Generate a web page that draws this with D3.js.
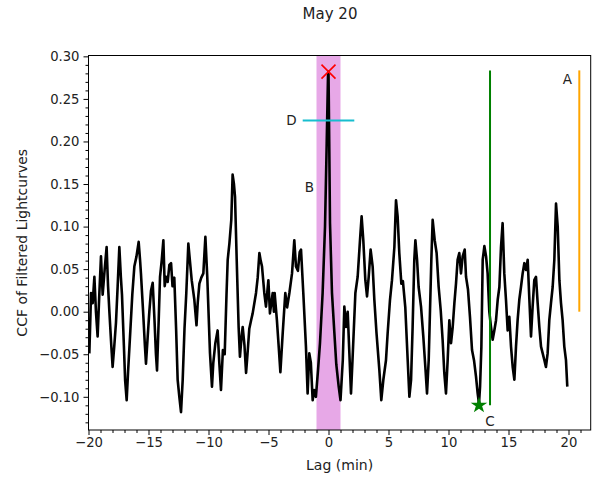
<!DOCTYPE html>
<html>
<head>
<meta charset="utf-8">
<script src="https://cdn.jsdelivr.net/npm/d3@7"></script>
<style>
  body { margin: 0; background: #fff; }
  svg { display: block; font-family: "DejaVu Sans", sans-serif; }
</style>
</head>
<body>
<svg id="chart" width="598" height="477"></svg>
<script>
// ---- data ----
const title = "May 20";
const xLabel = "Lag (min)";
const yLabel = "CCF of Filtered Lightcurves";
const xTicks = [-20, -15, -10, -5, 0, 5, 10, 15, 20];
const yTicks = [-0.10, -0.05, 0.00, 0.05, 0.10, 0.15, 0.20, 0.25, 0.30];

const lag = [
 -19.93,-19.85,-19.79,-19.65,-19.51,-19.38,-19.24,-19.1,-18.96,-18.82,-18.65,-18.49,-18.37,-18.26,-18.1,-17.99,-17.85,-17.71,-17.57,-17.43,
 -17.3,-17.21,-17.05,-16.95,-16.82,-16.7,-16.54,-16.35,-16.18,-16.0,-15.82,-15.7,-15.63,-15.45,-15.3,-15.21,-15.07,-14.93,-14.79,-14.65,
 -14.5,-14.38,-14.29,-14.15,-14.04,-13.9,-13.76,-13.65,-13.54,-13.4,-13.26,-13.12,-13.0,-12.85,-12.7,-12.57,-12.43,-12.29,-12.15,-12.0,
 -11.85,-11.68,-11.55,-11.4,-11.18,-11.0,-10.9,-10.76,-10.6,-10.43,-10.26,-10.1,-9.875,-9.71,-9.6,-9.43,-9.24,-9.1,-8.96,-8.8,
 -8.65,-8.5,-8.4,-8.26,-8.1,-7.99,-7.88,-7.79,-7.65,-7.49,-7.38,-7.25,-7.15,-7.0,-6.87,-6.75,-6.6,-6.45,-6.32,-6.04,
 -5.9,-5.76,-5.65,-5.54,-5.35,-5.21,-5.01,-4.88,-4.65,-4.55,-4.49,-4.3,-4.15,-4.01,-3.82,-3.6,-3.45,-3.26,-3.04,-2.85,
 -2.71,-2.55,-2.4,-2.29,-2.1,-1.88,-1.74,-1.6,-1.47,-1.32,-1.2,-1.05,-0.875,-0.71,-0.49,-0.29,-0.15,-0.04,0.0,0.06,
 0.125,0.29,0.49,0.65,0.85,1.0,1.19,1.32,1.46,1.6,1.74,1.875,2.0,2.24,2.43,2.625,2.76,2.9,3.07,3.21,
 3.35,3.51,3.68,3.82,4.0,4.24,4.4,4.57,4.79,4.93,5.125,5.29,5.49,5.625,5.76,5.9,6.07,6.2,6.4,6.6,
 6.74,6.88,7.01,7.15,7.24,7.38,7.51,7.71,7.9,8.07,8.21,8.35,8.46,8.57,8.68,8.85,9.01,9.18,9.35,9.51,
 9.65,9.79,9.93,10.07,10.21,10.35,10.49,10.625,10.76,10.9,11.04,11.18,11.35,11.46,11.625,11.79,11.96,12.125,12.29,12.43,
 12.54,12.63,12.74,12.85,12.99,13.13,13.26,13.4,13.54,13.68,13.82,13.96,14.1,14.24,14.375,14.51,14.65,14.79,14.93,15.07,
 15.21,15.35,15.49,15.625,15.76,15.9,16.04,16.18,16.32,16.46,16.6,16.74,16.875,17.01,17.15,17.29,17.43,17.57,17.71,17.85,
 17.99,18.12,18.26,18.4,18.54,18.68,18.82,18.96,19.1,19.24,19.375,19.51,19.65,19.79,19.9
];
const ccf = [
 -0.049,-0.010,0.022,0.010,0.041,0.000,-0.029,0.020,0.065,0.020,0.050,0.076,0.030,0.000,-0.040,-0.065,-0.040,-0.013,0.030,0.076,
 0.040,0.020,-0.040,-0.080,-0.104,-0.070,-0.029,0.020,0.053,0.065,0.082,0.060,0.045,0.000,-0.040,-0.061,-0.030,0.000,0.025,0.034,
 -0.010,-0.050,-0.069,-0.010,0.041,0.060,0.084,0.030,0.041,0.035,0.055,0.057,0.030,0.040,-0.020,-0.080,-0.100,-0.118,-0.080,-0.020,
 0.022,0.080,0.060,0.037,0.014,-0.016,0.010,0.033,0.040,0.045,0.088,0.040,-0.049,-0.088,-0.060,-0.037,-0.022,-0.060,-0.092,-0.045,
 -0.050,0.020,0.061,0.080,0.108,0.161,0.150,0.135,0.061,-0.018,-0.053,-0.030,-0.018,-0.040,-0.072,-0.050,-0.020,-0.010,-0.002,0.022,
 0.040,0.069,0.060,0.053,0.022,0.006,0.037,-0.002,0.022,0.000,0.022,-0.010,-0.041,-0.071,-0.026,0.022,0.005,0.022,0.045,0.084,
 0.053,0.048,0.070,0.073,0.022,-0.041,-0.096,-0.049,-0.060,-0.104,-0.092,-0.100,-0.069,-0.037,0.022,0.100,0.198,0.278,0.282,0.200,
 0.104,0.022,-0.025,-0.062,-0.088,-0.104,-0.057,0.006,-0.018,0.000,-0.049,-0.096,-0.057,0.022,0.041,0.084,0.112,0.084,0.037,0.018,
 0.041,0.073,0.053,0.014,-0.025,-0.069,-0.104,-0.080,-0.057,-0.025,0.014,0.037,0.076,0.131,0.112,0.069,0.033,0.036,0.005,-0.057,
 -0.100,-0.080,-0.018,0.061,0.084,0.061,0.029,0.006,-0.029,-0.065,-0.096,-0.057,0.002,0.061,0.108,0.084,0.069,0.029,0.002,-0.033,
 -0.072,-0.096,-0.057,-0.010,-0.037,-0.018,0.010,0.033,0.061,0.069,0.045,0.065,0.073,0.041,0.026,-0.006,-0.045,-0.057,-0.076,-0.096,
 -0.108,-0.088,-0.041,0.061,0.077,0.065,0.045,0.000,-0.018,-0.033,-0.022,-0.010,0.014,0.029,0.076,0.104,0.045,0.014,-0.022,-0.006,
 -0.041,-0.065,-0.080,-0.041,-0.010,0.014,0.029,0.045,0.057,0.049,0.061,0.014,-0.029,0.006,0.037,0.041,0.010,-0.018,-0.041,-0.049,
 -0.057,-0.065,-0.049,-0.010,0.010,0.029,0.061,0.127,0.100,0.037,0.010,-0.010,-0.041,-0.057,-0.088
];

// annotations
const spanX = [-1, 1];                 // shaded window
const peakPoint = [0.0, 0.282];        // red x
const lineD = { x: [-2.15, 2.15], y: 0.2247, label: "D" };
const labelB = { x: -1.6, y: 0.147, label: "B" };
const lineC = { x: 13.46, y: [-0.11, 0.2835], label: "C", labelY: -0.128 };
const starPoint = [12.54, -0.11];
const lineA = { x: 20.9, y: [0.0, 0.2835], label: "A", labelY: 0.273 };

// ---- drawing ----
const svg = d3.select("#chart");
const L = 88.5, R = 590.7, T = 55.5, B = 430;
const x = d3.scaleLinear().domain([-20, 21.85]).range([L, R]);
const y = d3.scaleLinear().domain([-0.139, 0.301]).range([B, T]);

// shaded span
svg.append("rect")
  .attr("x", x(spanX[0])).attr("y", T)
  .attr("width", x(spanX[1]) - x(spanX[0])).attr("height", B - T)
  .attr("fill", "rgb(231,168,231)");

// curve
const pts = lag.map((d, i) => [d, ccf[i]]);
svg.append("path")
  .datum(pts)
  .attr("fill", "none")
  .attr("stroke", "#000")
  .attr("stroke-width", 2.6)
  .attr("stroke-linejoin", "round")
  .attr("d", d3.line().x(d => x(d[0])).y(d => y(d[1])));

const annFont = 13.5;
// D line
svg.append("line")
  .attr("x1", x(lineD.x[0])).attr("x2", x(lineD.x[1]))
  .attr("y1", y(lineD.y)).attr("y2", y(lineD.y))
  .attr("stroke", "#17becf").attr("stroke-width", 2);
svg.append("text").attr("x", x(lineD.x[0]) - 6).attr("y", y(lineD.y))
  .attr("text-anchor", "end").attr("dominant-baseline", "central")
  .attr("font-size", annFont).attr("fill", "#222").text(lineD.label);

// B label
svg.append("text").attr("x", x(labelB.x)).attr("y", y(labelB.y))
  .attr("text-anchor", "middle").attr("dominant-baseline", "central")
  .attr("font-size", annFont).attr("fill", "#222").text(labelB.label);

// C line
svg.append("line")
  .attr("x1", x(lineC.x)).attr("x2", x(lineC.x))
  .attr("y1", y(lineC.y[0])).attr("y2", y(lineC.y[1]))
  .attr("stroke", "green").attr("stroke-width", 2);
svg.append("text").attr("x", x(lineC.x)).attr("y", y(lineC.labelY))
  .attr("text-anchor", "middle").attr("dominant-baseline", "central")
  .attr("font-size", annFont).attr("fill", "#222").text(lineC.label);

// A line
svg.append("line")
  .attr("x1", x(lineA.x)).attr("x2", x(lineA.x))
  .attr("y1", y(lineA.y[0])).attr("y2", y(lineA.y[1]))
  .attr("stroke", "orange").attr("stroke-width", 2);
svg.append("text").attr("x", x(lineA.x) - 12).attr("y", y(lineA.labelY))
  .attr("text-anchor", "middle").attr("dominant-baseline", "central")
  .attr("font-size", annFont).attr("fill", "#222").text(lineA.label);

// star
svg.append("path")
  .attr("d", d3.symbol(d3.symbolStar, 85)())
  .attr("transform", `translate(${x(starPoint[0])},${y(starPoint[1])})`)
  .attr("fill", "green");

// red x
const px = x(peakPoint[0]), py = y(peakPoint[1]), s = 7;
svg.append("path")
  .attr("d", `M${px - s},${py - s}L${px + s},${py + s}M${px - s},${py + s}L${px + s},${py - s}`)
  .attr("stroke", "red").attr("stroke-width", 1.6).attr("fill", "none");

// frame
svg.append("rect").attr("x", L).attr("y", T).attr("width", R - L).attr("height", B - T)
  .attr("fill", "none").attr("stroke", "#000").attr("stroke-width", 1);

// axes
const tickFont = 13.2;
const xAxis = d3.axisBottom(x).tickValues(xTicks).tickFormat(d => d < 0 ? "\u2212" + Math.abs(d) : d)
  .tickSize(5).tickPadding(3);
const gx = svg.append("g").attr("transform", `translate(0,${B})`).call(xAxis);
const xMinor = d3.range(-20, 22, 1).filter(v => !xTicks.includes(v));
const gxm = svg.append("g").attr("transform", `translate(0,${B})`)
  .call(d3.axisBottom(x).tickValues(xMinor).tickSize(3).tickFormat(""));

const fmtY = d => (d < 0 ? "\u2212" : "") + Math.abs(d).toFixed(2);
const yAxis = d3.axisLeft(y).tickValues(yTicks).tickFormat(fmtY).tickSize(5).tickPadding(4);
const gy = svg.append("g").attr("transform", `translate(${L},0)`).call(yAxis);
const yMinor = d3.range(-13, 31, 1).map(v => v / 100).filter(v => !yTicks.some(t => Math.abs(t - v) < 1e-9));
const gym = svg.append("g").attr("transform", `translate(${L},0)`)
  .call(d3.axisLeft(y).tickValues(yMinor).tickSize(3).tickFormat(""));

[gx, gxm, gy, gym].forEach(g => {
  g.select(".domain").remove();
  g.selectAll("line").attr("stroke", "#000");
  g.selectAll("text").attr("font-size", tickFont).attr("fill", "#222")
    .attr("font-family", "DejaVu Sans, sans-serif");
});

// labels
svg.append("text").attr("x", 330).attr("y", 19).attr("text-anchor", "middle")
  .attr("font-size", 15).attr("fill", "#222").text(title);
svg.append("text").attr("x", (L + R) / 2).attr("y", 470).attr("text-anchor", "middle")
  .attr("font-size", 14).attr("fill", "#222").text(xLabel);
svg.append("text").attr("transform", `translate(27,${(T + B) / 2}) rotate(-90)`)
  .attr("text-anchor", "middle").attr("font-size", 14).attr("fill", "#222").text(yLabel);
</script>
</body>
</html>
